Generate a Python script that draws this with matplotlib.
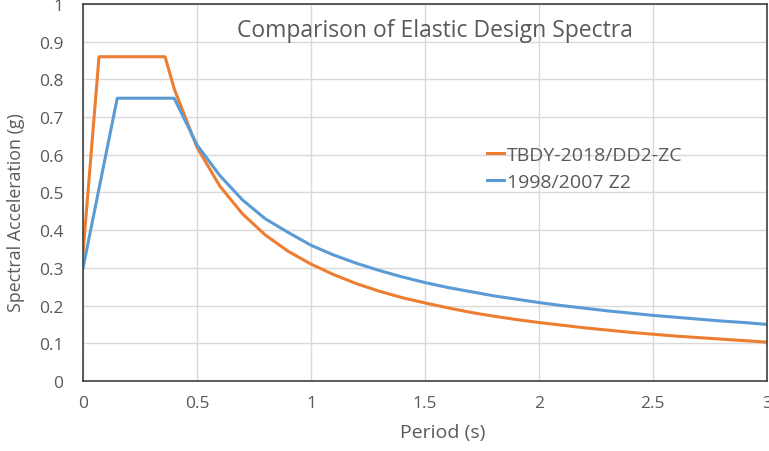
import matplotlib
matplotlib.use("Agg")
import matplotlib.pyplot as plt

plt.rcParams['font.family'] = ['Open Sans', 'DejaVu Sans']

# TBDY-2018 / DD2-ZC spectrum
tbdy_T = [0.0, 0.07, 0.36, 0.4, 0.5, 0.6, 0.7, 0.8, 0.9, 1.0, 1.1, 1.2, 1.3, 1.4, 1.5,
          1.6, 1.7, 1.8, 1.9, 2.0, 2.1, 2.2, 2.3, 2.4, 2.5, 2.6, 2.7, 2.8, 2.9, 3.0]
tbdy_Sa = [0.34, 0.86, 0.86, 0.775, 0.62, 0.517, 0.443, 0.387, 0.344, 0.31, 0.282, 0.258,
           0.238, 0.221, 0.207, 0.194, 0.182, 0.172, 0.163, 0.155, 0.148, 0.141, 0.135,
           0.129, 0.124, 0.119, 0.115, 0.111, 0.107, 0.103]

# 1998/2007 Z2 spectrum
old_T = [0.0, 0.15, 0.4, 0.5, 0.6, 0.7, 0.8, 0.9, 1.0, 1.1, 1.2, 1.3, 1.4, 1.5,
         1.6, 1.7, 1.8, 1.9, 2.0, 2.1, 2.2, 2.3, 2.4, 2.5, 2.6, 2.7, 2.8, 2.9, 3.0]
old_Sa = [0.30, 0.75, 0.75, 0.626, 0.545, 0.48, 0.43, 0.394, 0.36, 0.334, 0.312, 0.293,
          0.276, 0.261, 0.248, 0.237, 0.226, 0.217, 0.208, 0.200, 0.193, 0.186, 0.180,
          0.174, 0.169, 0.164, 0.159, 0.155, 0.150]

txt = '#595959'

fig = plt.figure(figsize=(7.69, 4.52), dpi=100)
ax = fig.add_axes([0.108, 0.155, 0.889, 0.834])

ax.plot(tbdy_T, tbdy_Sa, color='#ED7D31', lw=2.2, label='TBDY-2018/DD2-ZC')
ax.plot(old_T, old_Sa, color='#5B9BD5', lw=2.2, label='1998/2007 Z2')

ax.set_xlim(0, 3)
ax.set_ylim(0, 1)
ax.set_xticks([0, 0.5, 1, 1.5, 2, 2.5, 3])
ax.set_xticklabels(['0', '0.5', '1', '1.5', '2', '2.5', '3'])
ax.set_yticks([0, 0.1, 0.2, 0.3, 0.4, 0.5, 0.6, 0.7, 0.8, 0.9, 1])
ax.set_yticklabels(['0', '0.1', '0.2', '0.3', '0.4', '0.5', '0.6', '0.7', '0.8', '0.9', '1'])
ax.grid(True, color='#d9d9d9', lw=1)
ax.set_axisbelow(True)
ax.tick_params(length=0, labelsize=12.5, colors=txt)
ax.tick_params(axis='y', pad=14)
ax.tick_params(axis='x', pad=10)
for s in ax.spines.values():
    s.set_color('#404040')
    s.set_linewidth(1.2)

ax.set_xlabel('Period (s)', fontsize=14, color=txt)
ax.xaxis.set_label_coords(0.526, -0.112)
ax.set_ylabel('Spectral Acceleration (g)', fontsize=12.8, color=txt)
ax.yaxis.set_label_coords(-0.085, 0.45)
ax.text(0.515, 0.932, 'Comparison of Elastic Design Spectra', transform=ax.transAxes,
        ha='center', va='center', fontsize=16.5, color=txt)

ax.legend(loc='upper left', bbox_to_anchor=(0.565, 0.67), frameon=False,
          fontsize=14, labelcolor=txt, handlelength=0.9, handletextpad=0.15,
          labelspacing=0.45)

fig.savefig('out.png', dpi=100)
